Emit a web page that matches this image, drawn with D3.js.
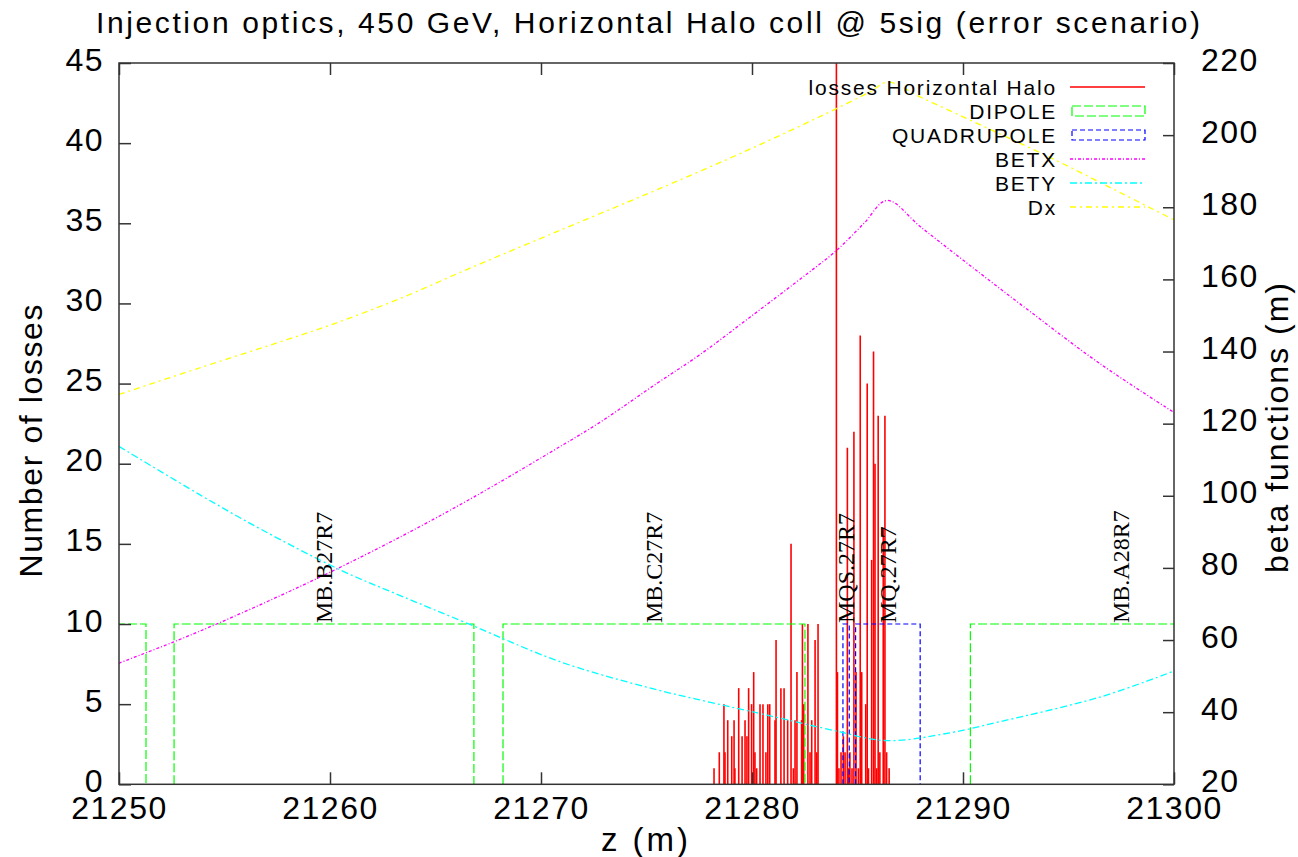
<!DOCTYPE html>
<html>
<head>
<meta charset="utf-8">
<script src="https://cdn.jsdelivr.net/npm/d3@7.9.0/dist/d3.min.js"></script>
<style>
  body { margin: 0; background: #fff; }
  svg { display: block; font-family: "Liberation Sans", Arial, sans-serif; }
</style>
</head>
<body>
<svg id="chart" width="1298" height="857"></svg>
<script>
// ---- data ----
// loss impulses: longitudinal position (m) and number of losses
const lossZ = [
  21278.20, 21278.45, 21278.67, 21278.72, 21278.85, 21279.04, 21279.15, 21279.19,
  21279.37, 21279.53, 21279.67, 21279.76, 21279.84, 21279.98, 21280.08, 21280.14,
  21280.22, 21280.38, 21280.52, 21280.66, 21280.75, 21280.84, 21281.09, 21281.14,
  21281.37, 21281.52, 21281.69, 21281.85, 21281.96, 21282.04, 21282.13, 21282.35,
  21282.39, 21282.45, 21282.65, 21282.75, 21282.83, 21282.99, 21283.07, 21283.13,
  21284.00, 21284.05, 21284.12, 21284.22, 21284.33, 21284.41, 21284.52, 21284.57,
  21284.64, 21284.74, 21284.83, 21284.93, 21285.04, 21285.13, 21285.20, 21285.39,
  21285.46, 21285.52, 21285.67, 21285.76, 21285.83, 21285.91, 21285.98, 21286.06,
  21286.22, 21286.30, 21286.38, 21286.50
];
const lossN = [
  1, 2, 5, 2, 4, 3, 4, 1,
  6, 3, 4, 3, 6, 5, 7, 2,
  1, 5, 5, 2, 5, 5, 4, 9,
  6, 6, 4, 15, 1, 4, 7, 4,
  10, 5, 10, 2, 4, 9, 2, 10,
  48, 7, 1, 2, 3, 2, 21, 1,
  2, 1, 22, 7, 1, 28, 7, 5,
  25, 1, 14, 27, 20, 1, 23, 2,
  16, 23, 2, 1
];

// magnets: start (m), end (m), name
const dipoleStart = [21236.98, 21252.61, 21268.20, 21290.35];
const dipoleEnd   = [21251.28, 21266.82, 21282.51, 21304.65];
const dipoleName  = ["", "MB.B27R7", "MB.C27R7", "MB.A28R7"];
const quadStart = [21284.31, 21284.91];
const quadEnd   = [21284.61, 21287.97];
const quadName  = ["MQS.27R7", "MQ.27R7"];
const magnetLevel = 10;

// optics (right axis, m)
const betxZ = [21250.0, 21252.6, 21255.0, 21257.6, 21260.0, 21263.3, 21266.8, 21270.4, 21272.8, 21275.5, 21277.5,
               21279.9, 21282.6, 21284.0, 21285.3, 21286.4, 21288.0, 21290.3, 21293.2, 21296.5, 21300.0];
const betxV = [53.6, 59.5, 65.4, 72.2, 78.8, 88.5, 99.6, 111.9, 120.4, 131.2, 139.0,
               149.5, 161.5, 168.0, 175.5, 181.9, 174.5, 164.0, 151.0, 136.6, 123.1];
const betyZ = [21250.0, 21253.8, 21256.7, 21260.5, 21263.3, 21266.6, 21270.9, 21275.1,
               21277.9, 21280.4, 21283.9, 21286.4, 21289.4, 21291.7, 21296.5, 21300.0];
const betyV = [113.7, 100.4, 90.8, 79.4, 72.4, 64.4, 54.0, 46.8,
               42.9, 39.6, 34.9, 32.1, 34.3, 37.3, 44.2, 51.4];
const dxZ = [21250.0, 21253.84, 21257.96, 21260.0, 21263.32, 21266.59, 21270.9, 21275.07, 21277.54, 21279.9,
             21282.27, 21283.98, 21285.59, 21286.45, 21287.96, 21290.33, 21294.41, 21297.44, 21300.0];
const dxV = [128.1, 135.5, 143.3, 147.3, 154.7, 163.0, 173.6, 183.8, 190.0, 196.1,
             202.5, 207.3, 212.0, 214.7, 210.6, 204.2, 193.0, 184.1, 176.5];

const xTicks = [21250, 21260, 21270, 21280, 21290, 21300];
const yTicks = [0, 5, 10, 15, 20, 25, 30, 35, 40, 45];
const y2Ticks = [20, 40, 60, 80, 100, 120, 140, 160, 180, 200, 220];

const legendLabels = ["losses Horizontal Halo", "DIPOLE", "QUADRUPOLE", "BETX", "BETY", "Dx"];
const legendColors = ["#ff0000", "#00ff00", "#0000ff", "#ff00ff", "#00ffff", "#ffff00"];

// ---- layout ----
const svg = d3.select("#chart");
const plotL = 119, plotR = 1174, plotT = 63, plotB = 784.3;

const x = d3.scaleLinear().domain([21250, 21300]).range([plotL, plotR]);
const y = d3.scaleLinear().domain([0, 45]).range([plotB, plotT]);
const y2 = d3.scaleLinear().domain([20, 220]).range([plotB, plotT]);

svg.append("defs").append("clipPath").attr("id", "plotclip")
  .append("rect")
  .attr("x", plotL).attr("y", plotT)
  .attr("width", plotR - plotL).attr("height", plotB - plotT);

const plot = svg.append("g").attr("clip-path", "url(#plotclip)");

// loss impulses
const losses = lossZ.map((z, i) => ({ z, n: lossN[i] }));
plot.selectAll("line.loss")
  .data(losses)
  .enter().append("line")
  .attr("class", "loss")
  .attr("x1", d => x(d.z)).attr("x2", d => x(d.z))
  .attr("y1", y(0)).attr("y2", d => y(d.n))
  .attr("stroke", "#ff0000")
  .attr("stroke-width", 1.6);

// magnet outlines
function magnetPath(s, e) {
  return `M${x(s)},${y(0)}V${y(magnetLevel)}H${x(e)}V${y(0)}`;
}
const dipoles = dipoleStart.map((s, i) => ({ s, e: dipoleEnd[i], name: dipoleName[i] }));
const quads = quadStart.map((s, i) => ({ s, e: quadEnd[i], name: quadName[i] }));

plot.selectAll("path.dipole")
  .data(dipoles)
  .enter().append("path")
  .attr("class", "dipole")
  .attr("d", d => magnetPath(d.s, d.e))
  .attr("fill", "none")
  .attr("stroke", "#00ff00")
  .attr("stroke-width", 1.2)
  .attr("stroke-dasharray", "9,3");

plot.selectAll("path.quad")
  .data(quads)
  .enter().append("path")
  .attr("class", "quad")
  .attr("d", d => magnetPath(d.s, d.e))
  .attr("fill", "none")
  .attr("stroke", "#0000ff")
  .attr("stroke-width", 1.2)
  .attr("stroke-dasharray", "5,3");

// optics curves
const curves = [
  { z: betxZ, v: betxV, color: "#ff00ff", dash: "3,2,1,2" },
  { z: betyZ, v: betyV, color: "#00ffff", dash: "7,3,2,3" },
  { z: dxZ, v: dxV, color: "#ffff00", dash: "6,4,2,4" }
];
const lineGen = d3.line()
  .x(d => x(d[0]))
  .y(d => y2(d[1]))
  .curve(d3.curveCatmullRom.alpha(0.5));

curves.forEach(c => {
  plot.append("path")
    .datum(c.z.map((z, i) => [z, c.v[i]]))
    .attr("fill", "none")
    .attr("stroke", c.color)
    .attr("stroke-width", 1.3)
    .attr("stroke-dasharray", c.dash)
    .attr("d", lineGen);
});

// element labels
const named = dipoles.concat(quads).filter(d => d.name);
plot.selectAll("text.elem")
  .data(named)
  .enter().append("text")
  .attr("class", "elem")
  .attr("transform", d => `translate(${x((d.s + d.e) / 2) + 8},${y(magnetLevel) - 1}) rotate(-90)`)
  .attr("font-family", "'Liberation Serif', 'Times New Roman', serif")
  .attr("font-size", 24)
  .attr("fill", "#000")
  .text(d => d.name);

// ---- axes ----
const tickFont = g => g.selectAll("text")
  .attr("font-family", "'Liberation Sans', Arial, sans-serif")
  .attr("font-size", 32)
  .style("letter-spacing", "1.5px")
  .attr("fill", "#000");
const tickLine = g => {
  g.select(".domain").remove();
  g.selectAll("line").attr("stroke", "#333").attr("stroke-width", 1.5);
};

svg.append("g")
  .attr("transform", `translate(0,${plotB})`)
  .call(d3.axisBottom(x).tickValues(xTicks).tickSizeInner(-12).tickSizeOuter(0).tickPadding(12).tickFormat(d3.format("d")))
  .call(tickLine).call(tickFont);

svg.append("g")
  .attr("transform", `translate(0,${plotT})`)
  .call(d3.axisTop(x).tickValues(xTicks).tickSizeInner(-12).tickSizeOuter(0).tickFormat(""))
  .call(tickLine);

svg.append("g")
  .attr("transform", `translate(${plotL},0)`)
  .call(d3.axisLeft(y).tickValues(yTicks).tickSizeInner(-12).tickSizeOuter(0).tickPadding(15))
  .call(tickLine).call(tickFont)
  .call(g => g.selectAll("text").attr("dy", "0.22em"));

svg.append("g")
  .attr("transform", `translate(${plotR},0)`)
  .call(d3.axisRight(y2).tickValues(y2Ticks).tickSizeInner(-11).tickSizeOuter(0).tickPadding(27))
  .call(tickLine).call(tickFont)
  .call(g => g.selectAll("text").attr("dy", "0.22em"));

// frame
svg.append("rect")
  .attr("x", plotL).attr("y", plotT)
  .attr("width", plotR - plotL).attr("height", plotB - plotT)
  .attr("fill", "none")
  .attr("stroke", "#333")
  .attr("stroke-width", 1.5);

// ---- titles ----
svg.append("text")
  .attr("x", 96).attr("y", 33)
  .attr("font-size", 30)
  .attr("textLength", 1104)
  .attr("lengthAdjust", "spacing")
  .text("Injection optics, 450 GeV, Horizontal Halo coll @ 5sig (error scenario)");

svg.append("text")
  .attr("x", 646).attr("y", 851)
  .attr("text-anchor", "middle")
  .attr("font-size", 33)
  .style("letter-spacing", "3px")
  .text("z (m)");

svg.append("text")
  .attr("transform", "translate(42,441) rotate(-90)")
  .attr("text-anchor", "middle")
  .attr("font-size", 32)
  .attr("textLength", 273)
  .attr("lengthAdjust", "spacing")
  .text("Number of losses");

svg.append("text")
  .attr("transform", "translate(1288,428) rotate(-90)")
  .attr("text-anchor", "middle")
  .attr("font-size", 32)
  .attr("textLength", 290)
  .attr("lengthAdjust", "spacing")
  .text("beta functions (m)");

// ---- legend ----
const legend = svg.append("g");
const rowY = i => 87 + i * 24;
const legendDash = [null, "9,3", "5,3", "3,2,1,2", "7,3,2,3", "6,4,2,4"];
legendLabels.forEach((label, i) => {
  legend.append("text")
    .attr("x", 1057).attr("y", rowY(i) + 7.5)
    .attr("text-anchor", "end")
    .attr("font-size", 21)
    .style("letter-spacing", "1.8px")
    .text(label);
  if (i === 1 || i === 2) {
    legend.append("rect")
      .attr("x", 1072).attr("y", rowY(i) - 5)
      .attr("width", 73).attr("height", 10)
      .attr("fill", "none")
      .attr("stroke", legendColors[i])
      .attr("stroke-width", 1.2)
      .attr("stroke-dasharray", legendDash[i]);
  } else {
    legend.append("line")
      .attr("x1", 1070).attr("x2", 1145)
      .attr("y1", rowY(i)).attr("y2", rowY(i))
      .attr("stroke", legendColors[i])
      .attr("stroke-width", 1.3)
      .attr("stroke-dasharray", legendDash[i]);
  }
});
</script>
</body>
</html>
